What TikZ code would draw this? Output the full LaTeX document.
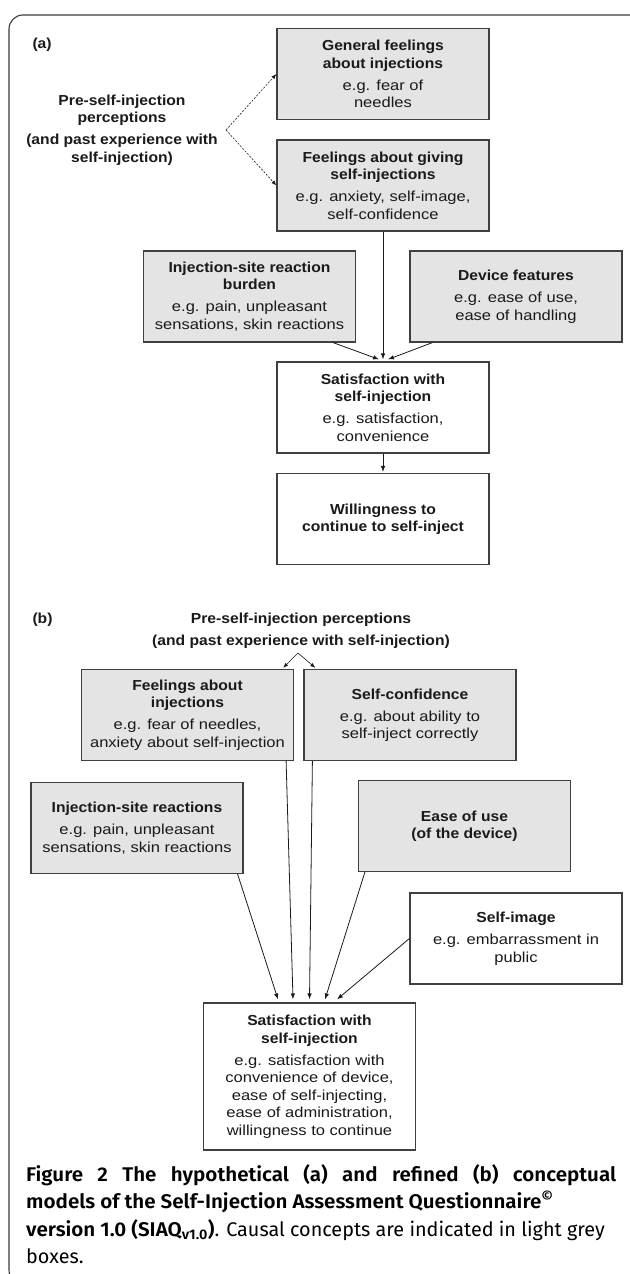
\documentclass[tikz,border=0pt]{standalone}
\usepackage{fontspec}
\setmainfont[FakeStretch=1.14,BoldFeatures={FakeStretch=1.08}]{Liberation Sans}
\newfontfamily\captionfont[BoldFont={Fira Sans SemiBold},BoldFeatures={FakeStretch=1.04}]{Fira Sans}
\usetikzlibrary{arrows.meta,calc}
\definecolor{boxfill}{HTML}{E4E4E4}
\definecolor{boxline}{HTML}{404040}
\definecolor{ink}{HTML}{1A1A1A}
\definecolor{framecol}{HTML}{3A3A3A}
\newcommand\boxwidth{212pt}
\newcommand\boxheight{91pt}
\newcommand\arrowtipscale{0.9}
\newcommand\diagfont{\fontsize{14.5}{17.5}\selectfont}
\tikzset{
  cause/.style={draw=boxline,fill=boxfill,line width=1.2pt,minimum width=\boxwidth,
    minimum height=\boxheight,align=center,inner sep=2pt,text=ink,font=\diagfont},
  outcome/.style={cause,fill=white},
  label/.style={align=center,text=ink,font=\diagfont\bfseries},
  link/.style={draw=ink,line width=0.8pt,-{Latex[scale=\arrowtipscale]}},
  guess/.style={link,dashed,dash pattern=on 2pt off 1.5pt,line width=0.6pt}
}

\begin{document}
\begin{tikzpicture}[x=1pt,y=-1pt]
    \useasboundingbox (0,0) rectangle (629,1274);
    \draw[framecol,line width=1.1pt,rounded corners=14pt] (9,15) rectangle (660,1284);

    \node[label,anchor=west] (tagA) at (29,45) {(a)};
    \node[label] (preA) at (122,130) {Pre-self-injection\\perceptions\\[4.5pt]
      (and past experience with\\self-injection)};
    \coordinate (forkA) at (226,130);

    \node[cause] (general) at (383,74) {\textbf{General feelings}\\\textbf{about injections}\\[4.5pt]
      e.g. fear of\\needles};
    \node[cause] (giving) at (383,185.5) {\textbf{Feelings about giving}\\\textbf{self-injections}\\[4.5pt]
      e.g. anxiety, self-image,\\self-confidence};
    \node[cause] (burden) at (249.5,296.5) {\textbf{Injection-site reaction}\\\textbf{burden}\\[4.5pt]
      e.g. pain, unpleasant\\sensations, skin reactions};
    \node[cause] (device) at (516,296.5) {\textbf{Device features}\\[4.5pt]
      e.g. ease of use,\\ease of handling};
    \node[outcome] (satA) at (383,407.5) {\textbf{Satisfaction with}\\\textbf{self-injection}\\[4.5pt]
      e.g. satisfaction,\\convenience};
    \node[outcome] (willing) at (383,519) {\textbf{Willingness to}\\\textbf{continue to self-inject}};

    \draw[guess] (forkA) -- (general.west);
    \draw[guess] (forkA) -- (giving.west);
    \draw[link] (giving.south) -- ($(satA.north)+(0,-2)$);
    \draw[link] ($(burden.south east)+(-23,0)$) -- ($(satA.north)+(-4,-2)$);
    \draw[link] ($(device.south west)+(23,0)$) -- ($(satA.north)+(5,-2)$);
    \draw[link] (satA.south) -- ($(willing.north)+(0,-1)$);

    \node[label,anchor=west] (tagB) at (29,620) {(b)};
    \node[label] (preB) at (301,631) {Pre-self-injection perceptions\\[4.5pt]
      (and past experience with self-injection)};
    \coordinate (apex) at (298,653);

    \node[cause] (feelings) at (187.5,715) {\textbf{Feelings about}\\\textbf{injections}\\[4.5pt]
      e.g. fear of needles,\\anxiety about self-injection};
    \node[cause] (confidence) at (410,715) {\textbf{Self-confidence}\\[4.5pt]
      e.g. about ability to\\self-inject correctly};
    \node[cause] (reactions) at (137,828) {\textbf{Injection-site reactions}\\[4.5pt]
      e.g. pain, unpleasant\\sensations, skin reactions};
    \node[cause] (ease) at (464.5,826) {\textbf{Ease of use}\\\textbf{(of the device)}};
    \node[outcome] (image) at (516,938.5) {\textbf{Self-image}\\[4.5pt]
      e.g. embarrassment in\\public};
    \node[outcome,minimum height=147pt] (satB) at (309.5,1076.5) {\textbf{Satisfaction with}\\
      \textbf{self-injection}\\[4.5pt]
      e.g. satisfaction with\\convenience of device,\\ease of self-injecting,\\
      ease of administration,\\willingness to continue};

    \draw[link,line width=0.6pt] (apex) -- ($(feelings.north east)+(-11,-1)$);
    \draw[link,line width=0.6pt] (apex) -- ($(confidence.north west)+(12,-1)$);
    \draw[link] ($(reactions.south east)+(-6,0)$) -- ($(satB.north)+(-31.5,-3)$);
    \draw[link] ($(feelings.south east)+(-8,0)$) -- ($(satB.north)+(-16.5,-3)$);
    \draw[link] ($(confidence.south west)+(9,0)$) -- ($(satB.north)+(0,-3)$);
    \draw[link] ($(ease.south west)+(7,0)$) -- ($(satB.north)+(15.5,-3)$);
    \draw[link] (image.west) -- ($(satB.north)+(27.5,-3)$);

    \node[anchor=north west,text width=590pt,align=justify,inner sep=0pt,
      font=\captionfont\fontsize{19.8}{27.5}\selectfont] (caption) at (26,1164) {%
      \textbf{Figure 2 The hypothetical (a) and refined (b) conceptual}\linebreak
      \textbf{models of the Self-Injection Assessment Questionnaire\textsuperscript{\textcopyright}}\\
      \textbf{version 1.0 (SIAQ\textsubscript{v1.0})}. Causal concepts are indicated in light grey\\
      boxes.};
  \end{tikzpicture}
\end{document}
